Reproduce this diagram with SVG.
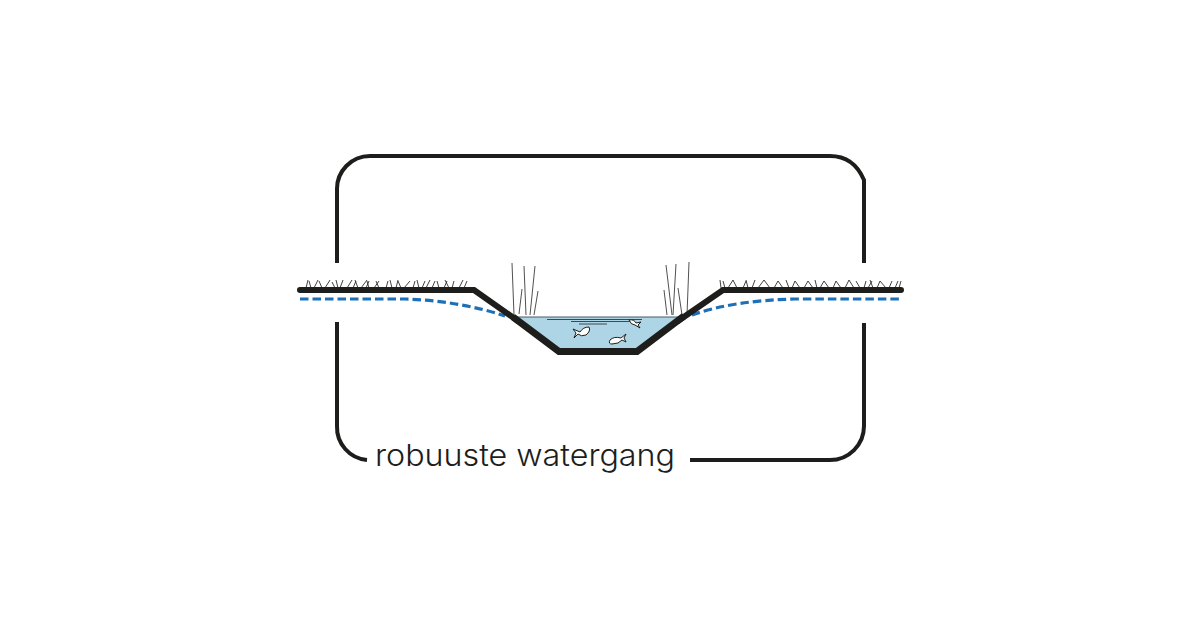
<svg xmlns="http://www.w3.org/2000/svg" width="1200" height="630" viewBox="0 0 1200 630">
<style>
.frame{fill:none;stroke:#1d1d1b;stroke-width:4;stroke-linecap:butt}
.ground{fill:none;stroke:#1d1d1b;stroke-linejoin:miter}
.grass{fill:none;stroke:#2b2b2a;stroke-width:.9}
.reed{fill:none;stroke:#3c3c3b;stroke-width:.9}
.drain{fill:none;stroke:#1d6fb8;stroke-width:3.200;stroke-dasharray:8.500 4}
.fish{fill:#fff;stroke:#1d1d1b;stroke-width:1}
</style>
<rect width="1200" height="630" fill="#fff"/>
<g id="water">
<path d="M515 317H681L636 350H560Z" fill="#aed5e5"/>
<path d="M514 317H682" fill="none" stroke="#4a5a62" stroke-width="1"/>
<path d="M547 319.500H642M571 321.500H630M579 324H607" fill="none" stroke="#3c4a50" stroke-width="1"/>
</g>
<g id="drain-line">
<path class="drain" d="M300 299H405C440 300 475 306 505 316"/>
<path class="drain" d="M692 315C720 305 755 300 795 299H902"/>
</g>
<g id="frame">
<path class="frame" d="M337 263V190A33 33 0 0 1 370 156H830C848 156 858 166 864 180V263"/>
<path class="frame" d="M337 322V426A33 33 0 0 0 367 460"/>
<path class="frame" d="M864 323V426A34 34 0 0 1 830 460H690"/>
</g>
<g id="grass">
<path class="grass" d="M306 288L308 280M311 288L309 281M314 288L318 280M322 288L319 281M325 288L330 280M335 288L332 282M343 280L340 288M338 288L336 280M347 288L352 280M353 288L356 281M358 288L355 280M361 288L367 280M366 288L369 281M369 288L367 281M374 288L379 281M379 288L376 281M386 288L388 281M392 288L390 280M396 288L398 280M401 288L398 281M404 288L410 281M413 288L415 281M419 288L417 280M422 288L425 281M426 288L430 280M432 288L435 281M439 288L437 281M444 288L447 281M449 288L445 280M452 288L454 281M459 288L463 280M464 288L467 281"/>
<path class="grass" d="M721 288L720 280M725 288L723 281M728 288L733 280M737 288L733 280M743 288L746 281M748 288L746 280M752 288L755 280M758 288L764 280M770 288L764 280M774 288L778 281M783 288L778 281M789 288L786 280M792 288L795 281M800 288L795 281M804 288L808 281M813 288L808 281M817 288L815 280M820 288L824 281M829 288L824 281M833 288L836 281M841 288L836 281M845 288L849 280M854 288L849 280M860 288L856 281M864 288L866 281M868 288L872 281M873 288L870 280M877 288L880 281M886 288L880 281M889 288L892 281M895 288L898 281M899 288L901 281"/>
</g>
<g id="reeds">
<path class="reed" d="M512 263L514 315M524 266L526 315M535 266L530 315M522 289L519 314M538 291L534 315"/>
<path class="reed" d="M666 265L672 315M676 264L673 315M689 262L687 315M664 290L667 315M678 288L682 315"/>
</g>
<g id="ground">
<path class="ground" stroke-width="6" stroke-linecap="round" d="M300 290H474L518 321"/>
<path class="ground" stroke-width="7" d="M513 317L559 351.500H637L684 316"/>
<path class="ground" stroke-width="6" stroke-linecap="round" d="M678 321L723 290H901"/>
</g>
<g id="fish">
<path class="fish" d="M573 329L580 332Q583 327 589 327Q591 331 586 335Q581 337 578 334L574 338L576 333Z"/>
<path class="fish" d="M626 334L621 338Q614 336 610 340Q608 344 612 344Q619 344 622 340L626 342L624 338Z"/>
<path class="fish" d="M629 320Q634 319 636 323L641 322L638 325L640 328L635 325Q631 325 629 320Z"/>
</g>
<g id="label">
<text x="375" y="466" font-family="Inter, 'Liberation Sans', sans-serif" font-weight="300" font-size="30" fill="#1d1d1b" textLength="300" lengthAdjust="spacingAndGlyphs">robuuste watergang</text>
</g>
</svg>
